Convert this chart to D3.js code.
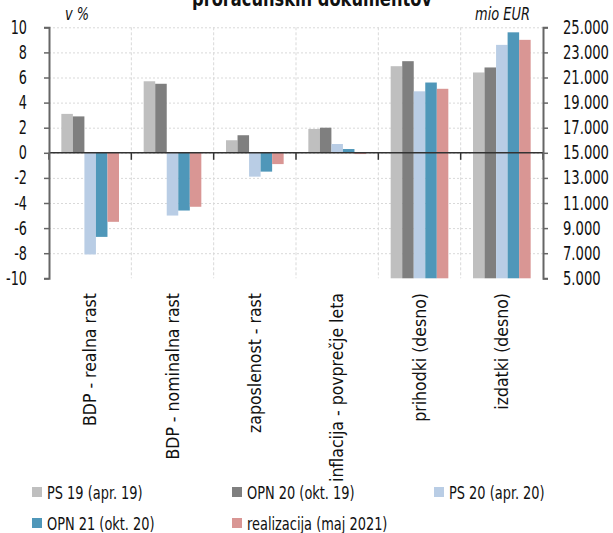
<!DOCTYPE html>
<html>
<head>
<meta charset="utf-8">
<script src="https://cdn.jsdelivr.net/npm/d3@7"></script>
<style>
  html, body { margin: 0; padding: 0; background: #fff; }
  svg text { font-family: "Liberation Sans Narrow", "DejaVu Sans Condensed", "Arial Narrow", sans-serif; fill: #111; }
</style>
</head>
<body>
<svg id="chart" width="613" height="533"></svg>
<script>
// Categories: the first four are read on the left axis (%), the last two on the right axis (mio EUR)
const categories = [
  "BDP - realna rast",
  "BDP - nominalna rast",
  "zaposlenost - rast",
  "inflacija - povprečje leta",
  "prihodki (desno)",
  "izdatki (desno)"
];
const rightAxisCategories = ["prihodki (desno)", "izdatki (desno)"];

const seriesNames = ["PS 19 (apr. 19)", "OPN 20 (okt. 19)", "PS 20 (apr. 20)", "OPN 21 (okt. 20)", "realizacija (maj 2021)"];
const seriesColors = ["#bfbfbf", "#7f7f7f", "#b9cde5", "#4f97b9", "#d99694"];

// One array per series, aligned with categories
const ps19   = [3.1, 5.7, 1.0, 1.9, 21900, 21400];
const opn20  = [2.9, 5.5, 1.4, 2.0, 22300, 21800];
const ps20   = [-8.1, -5.0, -1.9, 0.7, 19900, 23600];
const opn21  = [-6.7, -4.6, -1.5, 0.3, 20600, 24600];
const real21 = [-5.5, -4.3, -0.9, -0.1, 20100, 24000];
const seriesValues = [ps19, opn20, ps20, opn21, real21];

const leftTicks = [-10, -8, -6, -4, -2, 0, 2, 4, 6, 8, 10];
const rightTicks = [5000, 7000, 9000, 11000, 13000, 15000, 17000, 19000, 21000, 23000, 25000];

const svg = d3.select("#chart");
const plot = { left: 49, right: 543, top: 27.3, bottom: 278.3 };

// Squeeze text horizontally by factor k, keeping its anchor point in place
function squeeze(sel, k) {
  sel.each(function () {
    const x = +(this.getAttribute("x") || 0);
    this.setAttribute("x", x / k);
    const t = this.getAttribute("transform") || "";
    this.setAttribute("transform", (t + ` scale(${k},1)`).trim());
  });
}

const x0 = d3.scaleBand().domain(categories).range([plot.left, plot.right]).padding(0);
const x1 = d3.scaleBand().domain(seriesNames).range([0, x0.bandwidth()]).paddingInner(0).paddingOuter(1.07);
const yL = d3.scaleLinear().domain([-10, 10]).range([plot.bottom, plot.top]);
const yR = d3.scaleLinear().domain([5000, 25000]).range([plot.bottom, plot.top]);

// Title (second line of a two-line heading, running off the top edge)
svg.append("text").attr("x", 312).attr("y", 6).attr("text-anchor", "middle")
  .style("font-weight", "bold").style("font-size", "21px").text("proračunskih dokumentov")
  .call(squeeze, 0.86);

// Horizontal dotted grid
svg.append("g").selectAll("line").data(leftTicks.filter(d => d > -10)).join("line")
  .attr("x1", plot.left).attr("x2", plot.right)
  .attr("y1", d => yL(d) + 0.5).attr("y2", d => yL(d) + 0.5)
  .attr("stroke", "#d9d9d9").attr("stroke-width", 1).attr("stroke-dasharray", "2,2");

// Vertical dashed grid at category boundaries
const bounds = categories.slice(1).map(c => x0(c));
svg.append("g").selectAll("line").data(bounds).join("line")
  .attr("x1", d => d).attr("x2", d => d)
  .attr("y1", plot.top).attr("y2", plot.bottom)
  .attr("stroke", "#d9d9d9").attr("stroke-width", 1).attr("stroke-dasharray", "3,2");

// Bars
const barData = [];
categories.forEach((c, i) => {
  const right = rightAxisCategories.includes(c);
  seriesNames.forEach((s, j) => {
    barData.push({ cat: c, series: s, value: seriesValues[j][i], right, color: seriesColors[j] });
  });
});
svg.append("g").selectAll("rect").data(barData).join("rect")
  .attr("x", d => x0(d.cat) + x1(d.series))
  .attr("width", x1.bandwidth())
  .attr("y", d => d.right ? yR(d.value) : Math.min(yL(d.value), yL(0)))
  .attr("height", d => d.right ? yR(5000) - yR(d.value) : Math.abs(yL(d.value) - yL(0)))
  .attr("fill", d => d.color);

// Zero line with category ticks
svg.append("line").attr("x1", plot.left).attr("x2", plot.right)
  .attr("y1", yL(0)).attr("y2", yL(0)).attr("stroke", "#333").attr("stroke-width", 1.5);
svg.append("g").selectAll("line").data([plot.left, ...bounds, plot.right]).join("line")
  .attr("x1", d => d).attr("x2", d => d)
  .attr("y1", yL(0)).attr("y2", yL(0) + 7)
  .attr("stroke", "#333").attr("stroke-width", 1.5);

// Left axis
const axL = svg.append("g").attr("transform", `translate(${plot.left},0)`)
  .call(d3.axisLeft(yL).tickValues(leftTicks).tickSize(5).tickPadding(17).tickFormat(d3.format("d")));
axL.select(".domain").attr("stroke", "#666").attr("stroke-width", 2);
axL.selectAll(".tick line").attr("stroke", "#666").attr("stroke-width", 1.5);
axL.selectAll(".tick text").style("font-size", "19px").style("font-family", null).attr("fill", "#111")
  .text(d => d < 0 ? "-" + Math.abs(d) : d)
  .call(squeeze, 0.75);

// Right axis
const fmtThousands = d => d3.format(",")(d).replace(/,/g, ".");
const axR = svg.append("g").attr("transform", `translate(${plot.right},0)`)
  .call(d3.axisRight(yR).tickValues(rightTicks).tickSize(5).tickPadding(15).tickFormat(fmtThousands));
axR.select(".domain").attr("stroke", "#666").attr("stroke-width", 2);
axR.selectAll(".tick line").attr("stroke", "#666").attr("stroke-width", 1.5);
axR.selectAll(".tick text").style("font-size", "19px").style("font-family", null).attr("fill", "#111")
  .call(squeeze, 0.77);

// Axis unit labels
svg.append("text").attr("x", 65).attr("y", 20).style("font-style", "italic").style("font-size", "18px").text("v %")
  .call(squeeze, 0.8);
svg.append("text").attr("x", 530).attr("y", 20).attr("text-anchor", "end").style("font-style", "italic").style("font-size", "18px").text("mio EUR")
  .call(squeeze, 0.8);

// Rotated category labels
svg.append("g").selectAll("text").data(categories).join("text")
  .attr("transform", d => `translate(${x0(d) + x0.bandwidth() / 2 + 6},293) rotate(-90)`)
  .attr("text-anchor", "end")
  .style("font-size", "17.5px")
  .text(d => d);

// Legend
const legendPos = [
  { x: 32, y: 492 }, { x: 232, y: 492 }, { x: 434, y: 492 },
  { x: 32, y: 523 }, { x: 232, y: 523 }
];
const lg = svg.append("g").selectAll("g").data(seriesNames).join("g")
  .attr("transform", (d, i) => `translate(${legendPos[i].x},${legendPos[i].y})`);
lg.append("rect").attr("x", 0).attr("y", -5).attr("width", 10).attr("height", 10)
  .attr("fill", (d, i) => seriesColors[i]);
lg.append("text").attr("x", 15).attr("y", 7).style("font-size", "18px").text(d => d)
  .call(squeeze, 0.8);
</script>
</body>
</html>
